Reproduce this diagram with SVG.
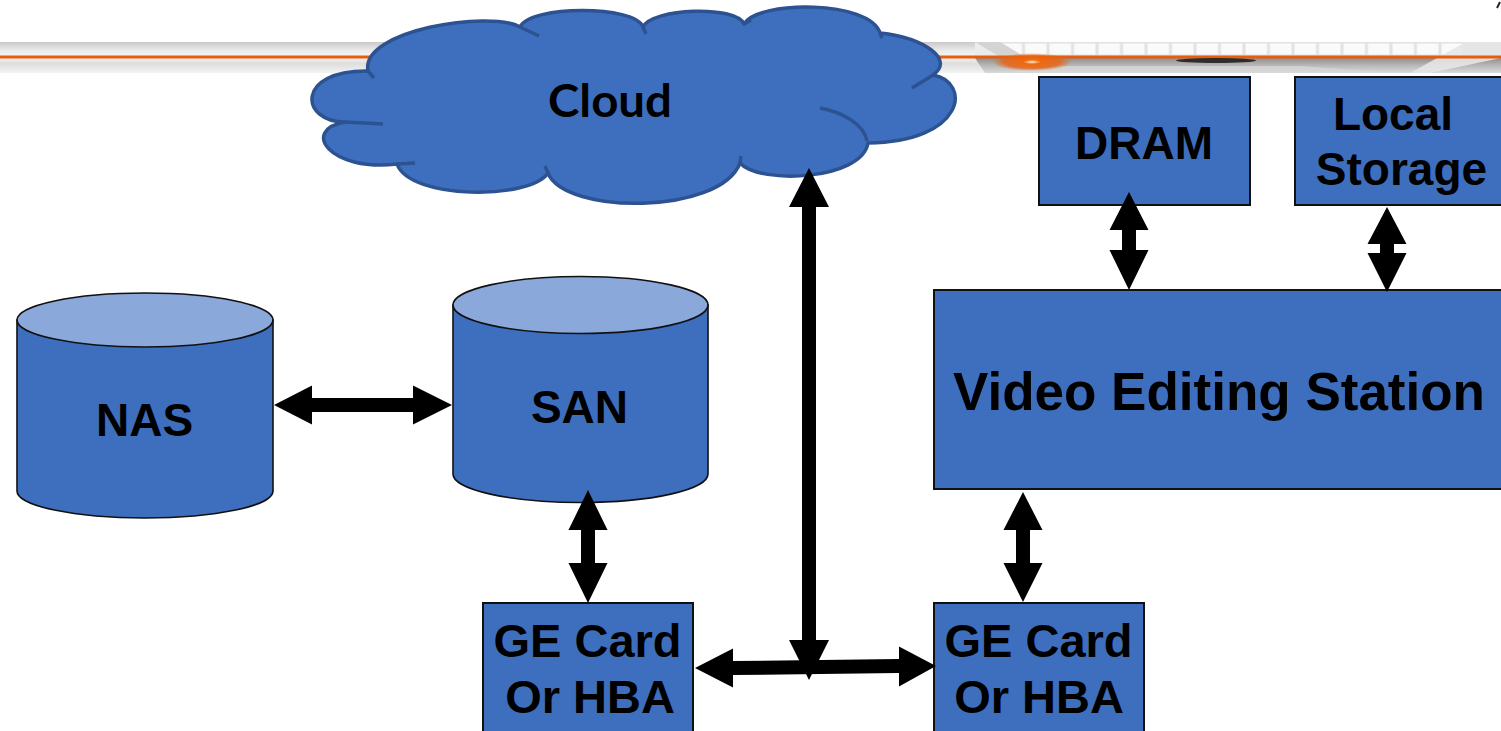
<svg xmlns="http://www.w3.org/2000/svg" width="1501" height="731" viewBox="0 0 1501 731">
<defs>
<linearGradient id="band" x1="0" y1="0" x2="0" y2="1">
<stop offset="0" stop-color="#c9c9c9"/>
<stop offset="0.25" stop-color="#e8e8e8"/>
<stop offset="0.45" stop-color="#f5f5f5"/>
<stop offset="0.7" stop-color="#dedede"/>
<stop offset="1" stop-color="#f3f3f3"/>
</linearGradient>
<linearGradient id="bandLow" x1="0" y1="0" x2="0" y2="1">
<stop offset="0" stop-color="#8e8e8e"/>
<stop offset="0.5" stop-color="#b8b8b8"/>
<stop offset="1" stop-color="#dadada"/>
</linearGradient>
<radialGradient id="glow">
<stop offset="0" stop-color="#fff4dc"/>
<stop offset="0.22" stop-color="#f0690f"/>
<stop offset="0.7" stop-color="#e8600c" stop-opacity="0.8"/>
<stop offset="1" stop-color="#e8600c" stop-opacity="0"/>
</radialGradient>
<pattern id="grid" x="999" y="42" width="24.5" height="14" patternUnits="userSpaceOnUse">
<rect x="0" y="0" width="24.5" height="14" fill="#e2e2e2"/>
<rect x="1.5" y="1.5" width="21.5" height="11" fill="#fafafa"/>
</pattern>
</defs>
<style>
.box{fill:#3e6fbe;stroke:#111;stroke-width:2}
.cyl{fill:#3e6fbe;stroke:#111;stroke-width:1.6}
.top{fill:#8aa8d9;stroke:#111;stroke-width:1.6}
.lbl{font-family:"Liberation Sans",Arial,sans-serif;font-weight:bold;fill:#000;text-anchor:middle}
.arr{fill:#000}
.cl{fill:#3e6fbe;stroke:#2c5291;stroke-width:3.5;stroke-linejoin:round}
.nt{fill:none;stroke:#2c5291;stroke-width:3.5;stroke-linecap:butt}
</style>
<rect width="1501" height="731" fill="#fff"/>
<g id="banner">
<rect x="0" y="42" width="1501" height="31" fill="url(#band)"/>
<rect x="975" y="42" width="526" height="15" fill="#ececec"/>
<rect x="999" y="42" width="467" height="14" fill="url(#grid)"/>
<polygon points="975,58 1501,58 1501,73 985,73" fill="url(#bandLow)"/>
<polygon points="975,42 1000,42 1025,57 1000,57" fill="#d4d4d4"/>
<polygon points="1000,73 1060,66 1300,66 1400,73" fill="#d8d8d8" opacity="0.7"/>
<polygon points="1466,42 1501,42 1501,58 1430,73 1410,73" fill="#e6e6e6" opacity="0.9"/>
<rect x="0" y="55.5" width="1501" height="3" fill="#e85d0c"/>
<ellipse cx="1032" cy="62" rx="40" ry="9" fill="url(#glow)"/>
<ellipse cx="1216" cy="60.5" rx="40" ry="2.5" fill="#1a1a1a" opacity="0.85"/>
<line x1="1497" y1="8" x2="1500" y2="2" stroke="#222" stroke-width="2"/>
</g>
<g id="cloud">
<path class="cl" d="M368,71 C360,30 490,10 520,27 C530,5 635,5 643,27 C652,8 736,5 744,24 C758,0 870,0 880,33 C925,38 955,60 933,75 C972,82 965,142 868,143 C862,180 760,185 740,163 C720,215 565,215 548,173 C530,200 410,200 397,164 C330,172 300,130 345,122 C300,122 295,70 368,71 Z"/>
<path class="nt" d="M368,71 L374,78 M520,27 L539,36 M643,27 L646,34 M744,24 L751,20 M880,33 L882,38 M933,75 L912,88 M820,108 C842,112 864,124 867,141 M740,163 L741,156 M548,173 L545,166 M397,164 L415,163 M345,122 L383,124"/>
<text x="610" y="117" font-family="Lato, 'Open Sans', sans-serif" font-weight="bold" font-size="46" text-anchor="middle" textLength="124" lengthAdjust="spacingAndGlyphs">Cloud</text>
</g>
<g id="nas">
<path class="cyl" d="M17,320 L17,491 A128,27 0 0 0 273,491 L273,320 Z"/>
<ellipse class="top" cx="145" cy="320" rx="128" ry="27"/>
<text class="lbl" x="144.5" y="436" style="font-size:46px">NAS</text>
</g>
<g id="san">
<path class="cyl" d="M453,305 L453,474 A127.5,28.5 0 0 0 708,474 L708,305 Z"/>
<ellipse class="top" cx="580.5" cy="305" rx="127.5" ry="28.5"/>
<text class="lbl" x="579.5" y="423" style="font-size:46px">SAN</text>
</g>
<g id="ge1">
<rect class="box" x="483" y="603" width="210" height="140"/>
<text class="lbl" x="587.5" y="657" style="font-size:47px">GE Card</text>
<text class="lbl" x="590" y="713" style="font-size:47px">Or HBA</text>
</g>
<g id="ge2">
<rect class="box" x="934" y="603" width="210" height="140"/>
<text class="lbl" x="1038.5" y="657" style="font-size:47px">GE Card</text>
<text class="lbl" x="1039" y="713" style="font-size:47px">Or HBA</text>
</g>
<g id="dram">
<rect class="box" x="1039" y="77" width="211" height="128"/>
<text class="lbl" x="1144" y="159" style="font-size:46px">DRAM</text>
</g>
<g id="local">
<rect class="box" x="1295" y="77" width="230" height="128"/>
<text class="lbl" x="1393" y="130" style="font-size:46px">Local</text>
<text class="lbl" x="1401.5" y="185" style="font-size:46px">Storage</text>
</g>
<g id="station">
<rect class="box" x="934" y="290" width="590" height="199"/>
<text class="lbl" x="1219" y="410" style="font-size:53px">Video Editing Station</text>
</g>
<g id="connectors">
<polygon class="arr" points="274,405 312,385.5 312,398 413,398 413,385.5 452,405 413,424.5 413,412 312,412 312,424.5"/>
<polygon class="arr" points="809,168 829,207 816,207 816,640 829,640 809,680 789,640 802,640 802,207 789,207"/>
<polygon class="arr" points="695,668 733,648.5 733,661 899,659 899,646.5 936,666 899,686.5 899,673 733,675 733,687.5"/>
<polygon class="arr" points="588,490 607.5,530 595,530 595,563 607.5,563 588,603 568.5,563 581,563 581,530 568.5,530"/>
<polygon class="arr" points="1023,492 1042.5,530 1030,530 1030,563 1042.5,563 1023,602 1003.5,563 1016,563 1016,530 1003.5,530"/>
<polygon class="arr" points="1129,192 1148.5,230 1136,230 1136,250 1148.5,250 1129,290 1109.5,250 1122,250 1122,230 1109.5,230"/>
<polygon class="arr" points="1387,207 1406.5,244 1394,244 1394,253 1406.5,253 1387,292 1367.5,253 1380,253 1380,244 1367.5,244"/>
</g>
</svg>
